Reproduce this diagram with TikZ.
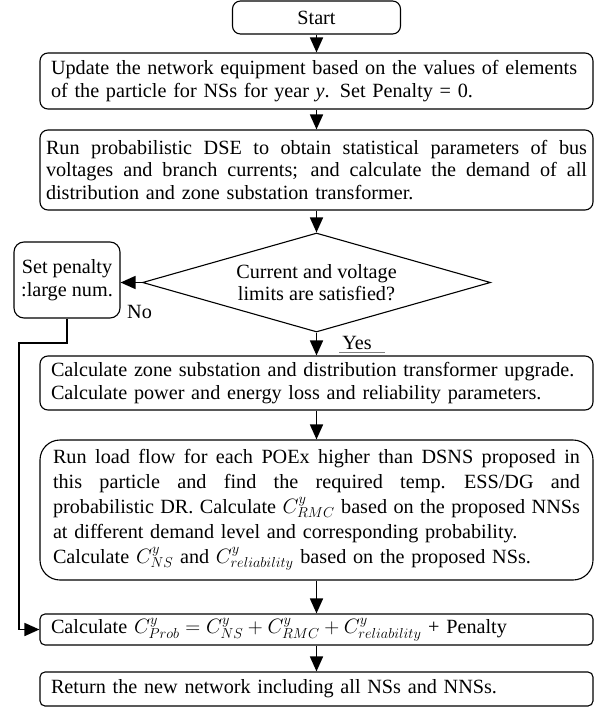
\documentclass[tikz,border=0pt]{standalone}
\usepackage{fontspec}
\setmainfont{Liberation Serif}
\usetikzlibrary{shapes.geometric,arrows.meta}
\newcommand{\jline}[2]{\leavevmode\hbox to #1{\spaceskip=.25em plus 1fil minus .08em\xspaceskip=.3em plus 1fil minus .08em #2}}
\begin{document}
\begin{tikzpicture}[x=1pt,y=-1pt,
  every node/.style={font=\fontsize{20.2pt}{22.5pt}\selectfont},
  box/.style={draw, line width=1.1pt, rounded corners=8pt, minimum width=553pt,
    inner xsep=0pt, inner ysep=0pt, align=left},
  arr/.style={line width=1.6pt, -{Triangle[width=13pt,length=15pt]}},
  lbl/.style={inner sep=0pt},
  ]
\useasboundingbox (0,0) rectangle (606,709);
\node[box, minimum width=168pt, minimum height=33pt, align=center] (start) at (316.5,17.5) {Start};
\node[box, text width=531pt, minimum height=56pt] (upd) at (316.5,81)
  {\mbox{Update the network equipment based on the values of elements}\\
   \mbox{of the particle for NSs for year \textit{y}. Set Penalty = 0.}};
\node[box, text width=541pt, minimum height=80pt] (dse) at (316.5,170)
  {\jline{541pt}{Run probabilistic DSE to obtain statistical parameters of bus}\\
   \jline{541pt}{voltages and branch currents; and calculate the demand of all}\\
   \mbox{distribution and zone substation transformer.}};
\node[draw, diamond, aspect=3.5, line width=1.1pt, minimum width=348pt, minimum height=99pt,
  inner sep=0pt, align=center] (dia) at (316.5,282.5)
  {Current and voltage\\limits are satisfied?};
\node[box, rounded corners=10pt, minimum width=106pt, minimum height=76pt, align=center] (pen) at (67,280)
  {Set penalty\\:large num.};
\node[box, text width=531pt, minimum height=54pt] (calcz) at (316.5,383)
  {\mbox{Calculate zone substation and distribution transformer upgrade.}\\
   \mbox{Calculate power and energy loss and reliability parameters.}};
\node[box, rounded corners=20pt, text width=527pt, minimum height=140pt,
  font=\fontsize{20.2pt}{25pt}\selectfont] (runlf) at (316.5,510)
  {\jline{527pt}{Run load flow for each POEx higher than DSNS proposed in}\\
   \jline{527pt}{this particle and find the required temp. ESS/DG and}\\
   \jline{527pt}{probabilistic DR. Calculate $C^{y}_{RMC}$ based on the proposed NNSs}\\
   \mbox{at different demand level and corresponding probability.}\\
   \mbox{Calculate $C^{y}_{NS}$ and $C^{y}_{reliability}$ based on the proposed NSs.}};
\node[box, rounded corners=5pt, text width=531pt, minimum height=31pt] (prob) at (316.5,629.5)
  {Calculate $C^{y}_{Prob}=C^{y}_{NS}+C^{y}_{RMC}+C^{y}_{reliability}$ + Penalty};
\node[box, rounded corners=5pt, text width=531pt, minimum height=34pt] (ret) at (316.5,689)
  {Return the new network including all NSs and NNSs.};
\node[lbl, anchor=west] (no) at (127,312) {No};
\node[lbl] (yes) at (357,343) {Yes};
\draw[gray, line width=0.8pt] (339,352.5) -- (385,352.5);
\coordinate (lp) at (19,343);
\draw[arr] (start) -- (upd);
\draw[arr] (upd) -- (dse);
\draw[arr] (dse) -- (dia);
\draw[arr] (dia.west) -- (dia.west -| pen.east);
\draw[arr] (dia) -- (calcz);
\draw[arr] (calcz) -- (runlf);
\draw[arr] (runlf) -- (prob);
\draw[arr] (prob) -- (ret);
\draw[arr] (pen.south) |- (lp) |- (prob.west);
\end{tikzpicture}
\end{document}
